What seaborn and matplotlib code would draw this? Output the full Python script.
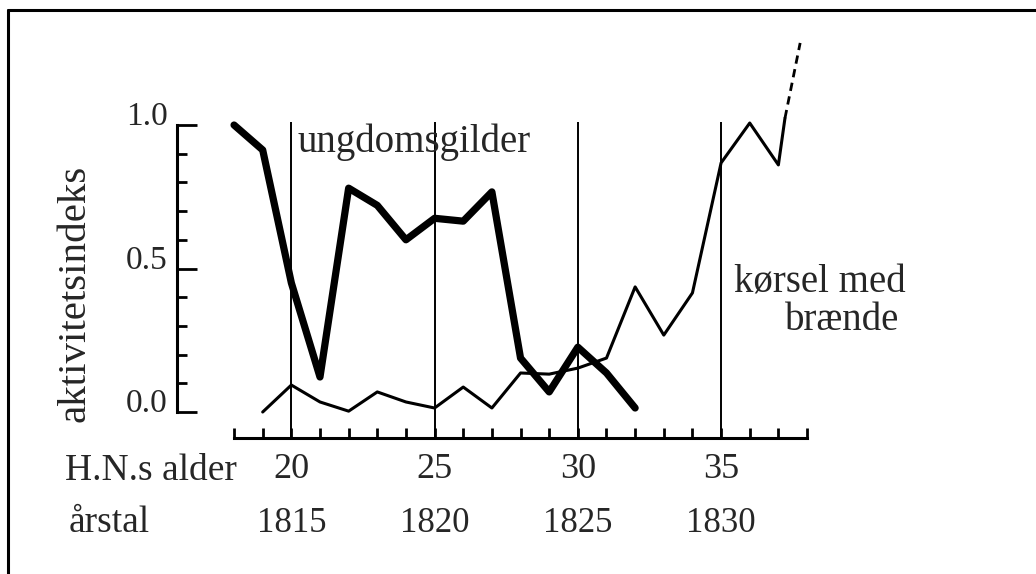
import matplotlib
matplotlib.use("Agg")
import matplotlib.pyplot as plt
import seaborn as sns
import pandas as pd
from matplotlib.lines import Line2D
from matplotlib.ticker import FixedLocator

# ---------------- data ----------------
ages_gilder = [18, 19, 20, 21, 22, 23, 24, 25, 26, 27, 28, 29, 30, 31, 32]
gilder = [1.0, 0.913, 0.45, 0.122, 0.78, 0.72, 0.60, 0.675, 0.665, 0.767,
          0.188, 0.07, 0.226, 0.136, 0.014]

ages_korsel = [19, 20, 21, 22, 23, 24, 25, 26, 27, 28, 29, 30, 31, 32, 33,
               34, 35, 36, 37, 37.23]
korsel = [0.0, 0.094, 0.035, 0.003, 0.07, 0.035, 0.014, 0.087, 0.014, 0.136,
          0.132, 0.153, 0.188, 0.436, 0.268, 0.415, 0.868, 1.007, 0.861, 1.024]

ages_korsel_proj = [37.23, 37.76]
korsel_proj = [1.024, 1.286]

marker_ages = [20, 25, 30, 35]
age_labels = ["20", "25", "30", "35"]
year_labels = ["1815", "1820", "1825", "1830"]
all_ages = list(range(18, 39))
y_major = [0.0, 0.5, 1.0]
y_major_labels = ["0.0", "0.5", "1.0"]
y_minor = [0.1, 0.2, 0.3, 0.4, 0.6, 0.7, 0.8, 0.9]

# ---------------- style ----------------
sns.set_style("white")
plt.rcParams["font.family"] = ["Liberation Serif", "DejaVu Serif"]

fig = plt.figure(figsize=(10.36, 5.74), dpi=100)
fig.patch.set_facecolor("white")
ax = fig.add_axes([0.1706, 0.2322, 0.6637, 0.7250])
ax.set_xlim(16, 40)
ax.set_ylim(-0.1, 1.35)

df_g = pd.DataFrame({"alder": ages_gilder, "indeks": gilder})
df_k = pd.DataFrame({"alder": ages_korsel, "indeks": korsel})
df_p = pd.DataFrame({"alder": ages_korsel_proj, "indeks": korsel_proj})

sns.lineplot(data=df_g, x="alder", y="indeks", ax=ax, color="black", lw=5.2,
             sort=False, estimator=None)
sns.lineplot(data=df_k, x="alder", y="indeks", ax=ax, color="black", lw=2.2,
             sort=False, estimator=None)
sns.lineplot(data=df_p, x="alder", y="indeks", ax=ax, color="black", lw=2.0,
             sort=False, estimator=None, linestyle=(0, (3, 2)))

ax.vlines(marker_ages, -0.09, 1.01, color="black", lw=1.4)

# spines
ax.spines["top"].set_visible(False)
ax.spines["right"].set_visible(False)
ax.spines["left"].set_bounds(0, 1)
ax.spines["left"].set_linewidth(2.2)
ax.spines["bottom"].set_position(("data", -0.09))
ax.spines["bottom"].set_bounds(18, 38)
ax.spines["bottom"].set_linewidth(2.2)
for s in ("left", "bottom"):
    ax.spines[s].set_color("black")

ax.set_xlabel("")
ax.set_ylabel("")

# ticks
ax.yaxis.set_major_locator(FixedLocator(y_major))
ax.yaxis.set_minor_locator(FixedLocator(y_minor))
ax.set_yticklabels(y_major_labels)
ax.xaxis.set_major_locator(FixedLocator(marker_ages))
ax.xaxis.set_minor_locator(FixedLocator(all_ages))
ax.set_xticklabels(age_labels)

ax.tick_params(axis="y", which="major", direction="in", length=14.4, width=2,
               color="black", labelsize=24, pad=6.5, left=True)
ax.tick_params(axis="y", which="minor", direction="in", length=7.2, width=2,
               color="black", left=True)
ax.tick_params(axis="x", which="both", direction="in", length=7.2, width=2,
               color="black", bottom=True)
ax.tick_params(axis="x", which="major", labelsize=26, pad=11)
plt.setp(ax.get_yticklabels(), va="baseline")

# texts
ax.text(20.23, 0.906, "ungdomsgilder", fontsize=28, ha="left", va="baseline")
ax.text(35.45, 0.415, "kørsel med", fontsize=28, ha="left", va="baseline")
ax.text(37.23, 0.286, "brænde", fontsize=28, ha="left", va="baseline")
ax.text(12.10, -0.237, "H.N.s alder", fontsize=27, ha="left", va="baseline",
        clip_on=False)
ax.text(12.21, -0.418, "årstal", fontsize=27, ha="left", va="baseline",
        clip_on=False)
for a, yl in zip(marker_ages, year_labels):
    ax.text(a, -0.418, yl, fontsize=25, ha="center", va="baseline",
            clip_on=False)

fig.text(75 / 1036, 1 - 293.5 / 574, "aktivitetsindeks", rotation=90,
         fontsize=29.5, ha="center", va="center")

# frame lines of the scanned page
fig.add_artist(Line2D([8 / 1036, 1.0], [1 - 10 / 574, 1 - 10 / 574],
                      transform=fig.transFigure, color="black", lw=2.2))
fig.add_artist(Line2D([8 / 1036, 8 / 1036], [0.0, 1 - 10 / 574],
                      transform=fig.transFigure, color="black", lw=2.2))

fig.savefig("out.png", dpi=100, facecolor="white")
